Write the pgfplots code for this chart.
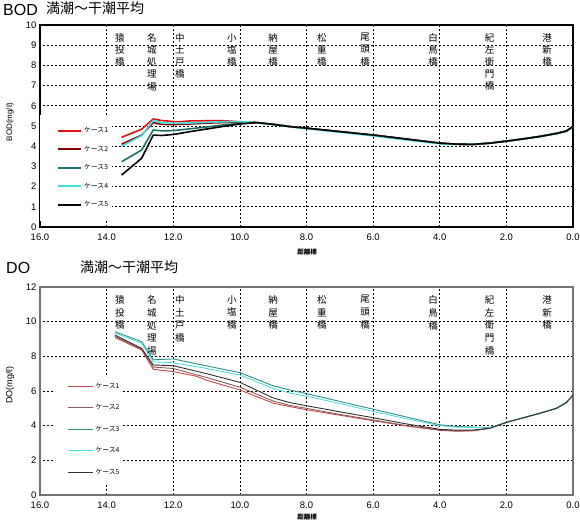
\documentclass[border=0pt]{standalone}
\usepackage{fontspec}
\setmainfont{Liberation Sans}
\newfontfamily\jp{Noto Sans CJK JP}
\usepackage{pgfplots}
\pgfplotsset{compat=1.18}
\definecolor{bA}{HTML}{E01010}
\definecolor{bB}{HTML}{800000}
\definecolor{bC}{HTML}{1E6E68}
\definecolor{bD}{HTML}{40E0E0}
\definecolor{bE}{HTML}{000000}
\definecolor{dA}{HTML}{C84848}
\definecolor{dB}{HTML}{8C5A5A}
\definecolor{dC}{HTML}{2E8C82}
\definecolor{dD}{HTML}{50E0E0}
\definecolor{dE}{HTML}{303030}
\tikzset{bl/.style={anchor=north, inner sep=0pt, align=center, yshift=-8pt, font=\jp\fontsize{9.5}{12.2}\selectfont},
         dl/.style={anchor=north, inner sep=0pt, align=center, yshift=-8pt, font=\jp\fontsize{9.5}{12.9}\selectfont}}
\pgfplotsset{
  common/.style={
    scale only axis, width=533pt, xmin=0, xmax=16, x dir=reverse,
    xtick={0,2,...,16}, major tick length=0pt,
    grid=major, grid style={black, line width=0.6pt, dash pattern=on 2pt off 2pt},
    /pgf/number format/assume math mode=true,
    ticklabel style={font=\fontsize{9.5}{10}\selectfont},
    xticklabel style={/pgf/number format/fixed, /pgf/number format/fixed zerofill, /pgf/number format/precision=1, yshift=-3pt},
    clip=false,
    legend cell align=left,
  },
}
\begin{document}
\begin{tikzpicture}[x=1pt,y=1pt]
\useasboundingbox (0,0) rectangle (580,524);
% titles
\node[anchor=base west, inner sep=0, font=\fontsize{16}{16}\selectfont] at (3,508) {BOD};
\node[anchor=base west, inner sep=0, font=\jp\fontsize{14}{14}\selectfont] at (46,510) {満潮～干潮平均};
\node[anchor=base west, inner sep=0, font=\fontsize{16}{16}\selectfont] at (6,250) {DO};
\node[anchor=base west, inner sep=0, font=\jp\fontsize{14}{14}\selectfont] at (80,251) {満潮～干潮平均};
% y labels
\node[rotate=90, font=\fontsize{8}{8}\selectfont] at (10,402) {BOD(mg/ℓ)};
\node[rotate=90, font=\fontsize{9}{9}\selectfont] at (10,139) {DO(mg/ℓ)};
% x labels
\node[font=\jp\bfseries\fontsize{6.5}{7}\selectfont] at (307,272) {距離標};
\node[font=\jp\bfseries\fontsize{6.5}{7}\selectfont] at (307,7) {距離標};

% ---------------- BOD ----------------
\begin{axis}[common, at={(40pt,297pt)}, anchor=south west, height=202pt,
  ymin=0, ymax=10, ytick={0,1,...,10},
  axis line style={black, line width=1.4pt},
  legend style={at={(0,0.555)}, anchor=north west, draw=none, fill=white,
    inner xsep=2pt, inner ysep=10.5pt, row sep=7.5pt,
    nodes={inner sep=2pt},
    font=\jp\fontsize{6.8}{7}\selectfont},
  legend image code/.code={\draw[draw=none, fill=none] (0pt,0pt) -- (39pt,0pt); \draw[#1, line width=2pt] (16pt,0pt) -- (39pt,0pt);},
]
\addplot[bA, line width=1.6pt] coordinates {(13.55,4.44)(12.95,4.84)(12.6,5.35)(12.35,5.27)(12.0,5.22)(11.8,5.21)(11.5,5.25)(11.0,5.26)(10.5,5.26)(10.0,5.21)(9.5,5.17)(9.0,5.08)(8.5,4.97)(8.0,4.89)(7.0,4.72)(6.0,4.55)(5.0,4.35)(4.0,4.15)(3.5,4.10)(3.0,4.09)(2.5,4.15)(2.0,4.25)(1.5,4.36)(1.0,4.48)(0.5,4.63)(0.2,4.75)(0.0,4.97)};
\addlegendentry{ケース1}
\addplot[bB, line width=1.6pt] coordinates {(13.55,4.10)(12.95,4.55)(12.6,5.17)(12.35,5.08)(12.0,5.07)(11.5,5.10)(11.0,5.14)(10.5,5.17)(10.0,5.19)(9.5,5.17)(9.0,5.08)(8.5,4.97)(8.0,4.89)(7.0,4.72)(6.0,4.55)(5.0,4.35)(4.0,4.15)(3.5,4.10)(3.0,4.09)(2.5,4.15)(2.0,4.25)(1.5,4.36)(1.0,4.48)(0.5,4.63)(0.2,4.75)(0.0,4.97)};
\addlegendentry{ケース2}
\addplot[bC, line width=1.6pt] coordinates {(13.55,3.23)(12.95,3.81)(12.6,4.80)(12.35,4.76)(12.0,4.77)(11.5,4.86)(11.0,4.95)(10.5,5.05)(10.0,5.13)(9.5,5.16)(9.0,5.08)(8.5,4.97)(8.0,4.89)(7.0,4.72)(6.0,4.55)(5.0,4.35)(4.0,4.15)(3.5,4.10)(3.0,4.09)(2.5,4.15)(2.0,4.25)(1.5,4.36)(1.0,4.48)(0.5,4.63)(0.2,4.75)(0.0,4.97)};
\addlegendentry{ケース3}
\addplot[bD, line width=1.6pt] coordinates {(13.55,4.00)(12.95,4.52)(12.6,5.27)(12.35,5.16)(12.0,5.13)(11.5,5.15)(11.0,5.18)(10.5,5.21)(10.0,5.22)(9.5,5.17)(9.0,5.07)(8.5,4.96)(8.0,4.87)(7.0,4.69)(6.0,4.51)(5.0,4.31)(4.0,4.12)(3.5,4.09)(3.0,4.09)(2.5,4.15)(2.0,4.25)(1.5,4.36)(1.0,4.48)(0.5,4.63)(0.2,4.75)(0.0,4.97)};
\addlegendentry{ケース4}
\addplot[bE, line width=1.6pt] coordinates {(13.55,2.57)(12.95,3.40)(12.6,4.55)(12.35,4.53)(12.0,4.58)(11.5,4.72)(11.0,4.85)(10.5,4.98)(10.0,5.10)(9.5,5.17)(9.0,5.08)(8.5,4.97)(8.0,4.89)(7.0,4.72)(6.0,4.55)(5.0,4.35)(4.0,4.15)(3.5,4.10)(3.0,4.09)(2.5,4.15)(2.0,4.25)(1.5,4.36)(1.0,4.48)(0.5,4.63)(0.2,4.75)(0.0,4.97)};
\addlegendentry{ケース5}
\node[bl] at (axis cs:13.6,10) {猿\\投\\橋};
\node[bl] at (axis cs:12.64,10) {名\\城\\処\\理\\場};
\node[bl] at (axis cs:11.8,10) {中\\土\\戸\\橋};
\node[bl] at (axis cs:10.24,10) {小\\塩\\橋};
\node[bl] at (axis cs:9.0,10) {納\\屋\\橋};
\node[bl] at (axis cs:7.54,10) {松\\重\\橋};
\node[bl] at (axis cs:6.24,10) {尾\\頭\\橋};
\node[bl] at (axis cs:4.2,10) {白\\鳥\\橋};
\node[bl] at (axis cs:2.5,10) {紀\\左\\衛\\門\\橋};
\node[bl] at (axis cs:0.78,10) {港\\新\\橋};
\end{axis}

% ---------------- DO ----------------
\begin{axis}[common, at={(40pt,29pt)}, anchor=south west, height=208pt,
  ymin=0, ymax=12, ytick={0,2,...,12},
  axis line style={black!55, line width=1.2pt},
  legend style={at={(0.028,0.577)}, anchor=north west, draw=none, fill=white,
    inner xsep=2pt, inner ysep=5.5pt, row sep=10.7pt,
    nodes={inner sep=2pt},
    font=\jp\fontsize{6.8}{7}\selectfont},
  legend image code/.code={\draw[draw=none, fill=none] (0pt,0pt) -- (36pt,0pt); \draw[#1, line width=1pt] (11pt,0pt) -- (36pt,0pt);},
]
\addplot[dA, line width=0.9pt] coordinates {(13.75,9.08)(12.95,8.37)(12.6,7.25)(12.0,7.12)(11.3,6.85)(11.0,6.62)(10.0,6.06)(9.0,5.30)(8.5,5.10)(8.0,4.92)(7.0,4.60)(6.0,4.29)(5.0,3.98)(4.0,3.73)(3.5,3.68)(3.0,3.70)(2.5,3.85)(2.0,4.19)(1.5,4.45)(1.0,4.71)(0.5,5.00)(0.2,5.33)(0.0,5.77)};
\addlegendentry{ケース1}
\addplot[dB, line width=0.9pt] coordinates {(13.75,9.15)(12.95,8.42)(12.6,7.38)(12.0,7.30)(11.0,6.78)(10.0,6.22)(9.0,5.42)(8.5,5.17)(8.0,5.00)(7.0,4.65)(6.0,4.33)(5.0,4.00)(4.0,3.75)(3.5,3.70)(3.0,3.72)(2.5,3.85)(2.0,4.19)(1.5,4.45)(1.0,4.71)(0.5,5.00)(0.2,5.33)(0.0,5.77)};
\addlegendentry{ケース2}
\addplot[dC, line width=0.9pt] coordinates {(13.75,9.42)(12.95,8.85)(12.6,7.80)(12.0,7.85)(11.0,7.45)(10.0,7.06)(9.0,6.30)(8.5,6.06)(8.0,5.85)(7.0,5.40)(6.0,4.95)(5.0,4.50)(4.0,4.05)(3.5,3.95)(3.0,3.92)(2.5,3.88)(2.0,4.19)(1.5,4.45)(1.0,4.71)(0.5,5.00)(0.2,5.33)(0.0,5.77)};
\addlegendentry{ケース3}
\addplot[dD, line width=0.9pt] coordinates {(13.75,9.35)(12.95,8.75)(12.6,7.68)(12.0,7.63)(11.0,7.30)(10.0,6.92)(9.0,6.15)(8.5,5.88)(8.0,5.70)(7.0,5.28)(6.0,4.82)(5.0,4.40)(4.0,4.00)(3.5,3.92)(3.0,3.90)(2.5,3.87)(2.0,4.19)(1.5,4.45)(1.0,4.71)(0.5,5.00)(0.2,5.33)(0.0,5.77)};
\addlegendentry{ケース4}
\addplot[dE, line width=0.9pt] coordinates {(13.75,9.23)(12.95,8.46)(12.6,7.50)(12.0,7.46)(11.0,7.00)(10.0,6.50)(9.0,5.60)(8.5,5.33)(8.0,5.15)(7.0,4.80)(6.0,4.46)(5.0,4.10)(4.0,3.79)(3.5,3.74)(3.0,3.75)(2.5,3.85)(2.0,4.19)(1.5,4.45)(1.0,4.71)(0.5,5.00)(0.2,5.33)(0.0,5.77)};
\addlegendentry{ケース5}
\node[dl] at (axis cs:13.6,12) {猿\\投\\橋};
\node[dl] at (axis cs:12.64,12) {名\\城\\処\\理\\場};
\node[dl] at (axis cs:11.8,12) {中\\土\\戸\\橋};
\node[dl] at (axis cs:10.24,12) {小\\塩\\橋};
\node[dl] at (axis cs:9.0,12) {納\\屋\\橋};
\node[dl] at (axis cs:7.54,12) {松\\重\\橋};
\node[dl] at (axis cs:6.24,12) {尾\\頭\\橋};
\node[dl] at (axis cs:4.2,12) {白\\鳥\\橋};
\node[dl] at (axis cs:2.5,12) {紀\\左\\衛\\門\\橋};
\node[dl] at (axis cs:0.78,12) {港\\新\\橋};
\end{axis}
\end{tikzpicture}
\end{document}
